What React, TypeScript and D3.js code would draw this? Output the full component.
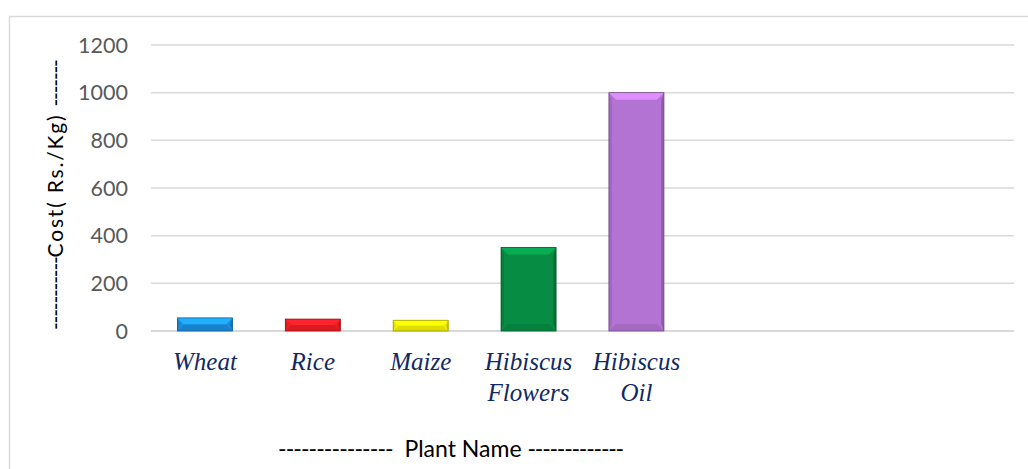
import React, { useEffect, useRef } from "react";
import * as d3 from "d3";

const categories = ["Wheat", "Rice", "Maize", "Hibiscus Flowers", "Hibiscus Oil"];
const emptySlots = ["_e1", "_e2", "_e3"];
const costs = [55, 50, 45, 350, 1000];
const barColors = ["#1b8ee0", "#ee1c24", "#f2f200", "#068c43", "#b373d2"];
const yTicks = [0, 200, 400, 600, 800, 1000, 1200];

export default function App() {
  const ref = useRef<SVGSVGElement | null>(null);

  useEffect(() => {
    if (!ref.current) return;
    const svg = d3.select(ref.current);
    svg.selectAll("*").remove();

    const width = 1028;
    const height = 469;
    const left = 151;
    const right = 1014;
    const top = 45;
    const bottom = 331;
    const sans = "Lato, 'Liberation Sans', sans-serif";

    // chart frame
    svg
      .append("rect")
      .attr("x", 9.5)
      .attr("y", 16.5)
      .attr("width", width + 20)
      .attr("height", height + 20)
      .attr("fill", "#fff")
      .attr("stroke", "#d9d9d9")
      .attr("stroke-width", 1.5);

    const x = d3
      .scaleBand<string>()
      .domain([...categories, ...emptySlots])
      .range([left, right])
      .paddingInner(0.49)
      .paddingOuter(0.245);

    const y = d3.scaleLinear().domain([0, 1200]).range([bottom, top]);

    // gridlines
    svg
      .append("g")
      .selectAll("line")
      .data(yTicks)
      .join("line")
      .attr("x1", left)
      .attr("x2", right)
      .attr("y1", (d) => y(d))
      .attr("y2", (d) => y(d))
      .attr("stroke", "#d9d9d9")
      .attr("stroke-width", (d) => (d === 0 ? 2 : 1.5));

    // tick labels
    svg
      .append("g")
      .attr("font-family", sans)
      .attr("font-size", 21.5)
      .attr("fill", "#595959")
      .attr("text-anchor", "end")
      .selectAll("text")
      .data(yTicks)
      .join("text")
      .attr("x", 128)
      .attr("y", (d) => y(d))
      .attr("dy", "0.36em")
      .text((d) => d);

    // bars with a bevel look
    const data = categories.map((c, i) => ({ name: c, value: costs[i], color: barColors[i] }));
    const bars = svg.append("g").selectAll("g").data(data).join("g");

    bars.each(function (d) {
      const g = d3.select(this);
      const bx = x(d.name)!;
      const bw = x.bandwidth();
      const by = y(d.value);
      const bh = y(0) - by;
      const b = Math.min(7, bh / 2);
      const base = d3.color(d.color)!;
      g.append("rect")
        .attr("x", bx)
        .attr("y", by)
        .attr("width", bw)
        .attr("height", bh)
        .attr("fill", d.color);
      const poly = (pts: [number, number][], fill: string) =>
        g.append("polygon").attr("points", pts.map((p) => p.join(",")).join(" ")).attr("fill", fill);
      poly([[bx, by], [bx + bw, by], [bx + bw - b, by + b], [bx + b, by + b]], base.brighter(0.6).formatHex());
      poly([[bx, by + bh], [bx + bw, by + bh], [bx + bw - b, by + bh - b], [bx + b, by + bh - b]], base.darker(0.25).formatHex());
      poly([[bx, by], [bx + b * 0.4, by + b], [bx + b * 0.4, by + bh - b], [bx, by + bh]], base.darker(0.3).formatHex());
      poly([[bx + bw, by], [bx + bw - b * 0.4, by + b], [bx + bw - b * 0.4, by + bh - b], [bx + bw, by + bh]], base.darker(0.6).formatHex());
      g.append("rect")
        .attr("x", bx)
        .attr("y", by)
        .attr("width", bw)
        .attr("height", bh)
        .attr("fill", "none")
        .attr("stroke", base.darker(1.2).formatHex())
        .attr("stroke-width", 0.8);
    });

    // category labels
    const labels = svg
      .append("g")
      .attr("font-family", "'Liberation Serif', 'Times New Roman', serif")
      .attr("font-style", "italic")
      .attr("font-size", 25)
      .attr("fill", "#102a66")
      .attr("text-anchor", "middle")
      .selectAll("text")
      .data(categories)
      .join("text")
      .attr("x", (d) => x(d)! + x.bandwidth() / 2)
      .attr("y", 370);
    labels
      .selectAll("tspan")
      .data((d) => d.split(" "))
      .join("tspan")
      .attr("x", function () {
        return (this.parentNode as SVGTextElement).getAttribute("x");
      })
      .attr("dy", (_d, i) => (i === 0 ? 0 : 31))
      .text((d) => d);

    // x axis title
    const xt = svg
      .append("text")
      .attr("x", 278)
      .attr("y", 457)
      .attr("font-family", sans)
      .attr("font-size", 23)
      .attr("fill", "#000")
      .attr("xml:space", "preserve");
    xt.append("tspan").attr("letter-spacing", -0.9).text("---------------");
    xt.append("tspan").text("  Plant Name ");
    xt.append("tspan").attr("letter-spacing", -1.2).text("-------------");

    // y axis title
    const yt = svg
      .append("text")
      .attr("transform", `translate(63,330) rotate(-90)`)
      .attr("font-family", sans)
      .attr("font-size", 21)
      .attr("fill", "#000")
      .attr("xml:space", "preserve");
    yt.append("tspan").attr("letter-spacing", -1.2).text("-----------");
    yt.append("tspan").attr("letter-spacing", 1.8).text("Cost( Rs./Kg) ");
    yt.append("tspan").attr("letter-spacing", -1.2).text("-------");
  }, []);

  return (
    <svg
      ref={ref}
      width={1028}
      height={469}
      style={{ position: "absolute", left: 0, top: 0, background: "#fff" }}
    />
  );
}
